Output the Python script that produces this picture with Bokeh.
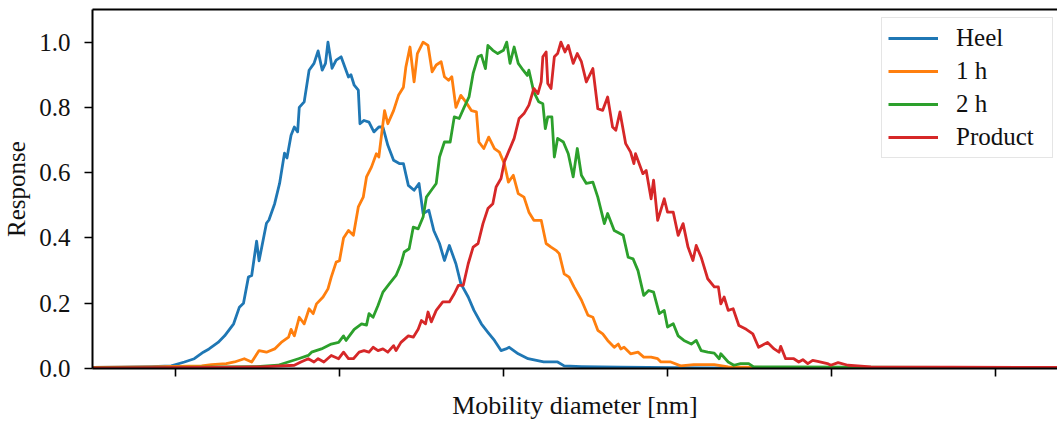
from bokeh.plotting import figure
from bokeh.models import FixedTicker, LinearAxis, PrintfTickFormatter
from bokeh.embed import file_html
from bokeh.resources import INLINE

FONT = "Liberation Serif"

# Mobility diameter [nm] vs normalised response
heel = [(9.9, 0.003), (13.4, 0.004), (17.1, 0.006), (19.5, 0.008), (21.1, 0.02), (22.3, 0.03),
        (23.4, 0.05), (24.1, 0.06), (25.2, 0.08), (26.0, 0.10), (27.1, 0.137), (27.8, 0.188),
        (28.3, 0.20), (28.9, 0.28), (29.3, 0.285), (29.9, 0.39), (30.2, 0.33), (31.1, 0.445),
        (31.4, 0.455), (32.1, 0.505), (32.7, 0.567), (33.3, 0.66), (33.6, 0.645), (34.1, 0.715),
        (34.5, 0.74), (34.9, 0.725), (35.1, 0.80), (35.7, 0.817), (36.3, 0.914), (36.9, 0.935),
        (37.4, 0.973), (37.9, 0.914), (38.3, 0.935), (38.6, 1.0), (39.1, 0.92), (39.6, 0.945),
        (40.2, 0.955), (41.1, 0.893), (41.4, 0.90), (41.8, 0.868), (42.3, 0.853), (42.5, 0.75),
        (43.0, 0.76), (43.6, 0.755), (44.2, 0.725), (44.8, 0.74), (45.3, 0.74), (45.9, 0.684),
        (46.6, 0.638), (47.3, 0.628), (47.8, 0.628), (48.4, 0.561), (49.1, 0.546), (49.7, 0.567),
        (50.2, 0.475), (50.9, 0.485), (51.5, 0.423), (52.2, 0.383), (52.8, 0.331), (53.4, 0.377),
        (54.2, 0.321), (54.8, 0.26), (55.7, 0.219), (56.4, 0.178), (57.3, 0.137), (58.1, 0.111),
        (58.9, 0.086), (59.7, 0.055), (60.3, 0.06), (60.7, 0.065), (61.8, 0.045), (63.0, 0.03),
        (64.9, 0.02), (66.6, 0.02), (67.4, 0.008), (69.5, 0.006), (74.3, 0.004), (84.1, 0.002),
        (96.2, 0.001), (108.4, 0.001), (127.5, 0.001)]

one_h = [(9.9, 0.003), (17.1, 0.005), (23.2, 0.008), (24.4, 0.012), (26.2, 0.015), (27.2, 0.02),
         (28.4, 0.03), (29.3, 0.02), (30.2, 0.055), (31.1, 0.05), (32.1, 0.06), (32.9, 0.08),
         (33.8, 0.096), (34.1, 0.12), (34.5, 0.10), (35.1, 0.157), (35.7, 0.137), (36.3, 0.183),
         (36.8, 0.168), (37.2, 0.198), (38.0, 0.219), (38.6, 0.244), (39.0, 0.28), (39.6, 0.326),
         (40.0, 0.33), (40.5, 0.40), (41.1, 0.423), (41.7, 0.408), (42.3, 0.495), (42.9, 0.525),
         (43.3, 0.587), (43.9, 0.617), (44.5, 0.658), (44.8, 0.648), (45.5, 0.79), (45.9, 0.75),
         (46.6, 0.79), (47.2, 0.837), (47.8, 0.862), (48.1, 0.924), (48.6, 0.985), (49.1, 0.878),
         (49.5, 0.965), (50.2, 1.0), (50.8, 0.99), (51.3, 0.909), (51.8, 0.93), (52.4, 0.94),
         (52.8, 0.894), (53.3, 0.883), (53.7, 0.894), (54.2, 0.80), (54.8, 0.837), (55.4, 0.817),
         (56.1, 0.79), (56.7, 0.786), (57.0, 0.694), (57.6, 0.674), (58.2, 0.709), (58.9, 0.674),
         (59.5, 0.663), (60.1, 0.628), (60.6, 0.571), (61.2, 0.592), (61.8, 0.536), (62.5, 0.525),
         (63.1, 0.479), (63.7, 0.454), (64.6, 0.454), (65.2, 0.383), (65.8, 0.372), (66.4, 0.362),
         (66.8, 0.352), (67.4, 0.29), (68.0, 0.28), (68.6, 0.25), (69.5, 0.21), (70.3, 0.163),
         (70.9, 0.157), (71.5, 0.117), (72.1, 0.106), (72.7, 0.086), (73.5, 0.065), (74.0, 0.075),
         (74.3, 0.06), (74.7, 0.065), (75.5, 0.045), (76.4, 0.05), (77.1, 0.035), (78.0, 0.035),
         (78.8, 0.03), (79.2, 0.02), (80.4, 0.02), (81.6, 0.008), (83.2, 0.012), (85.7, 0.012),
         (87.4, 0.005), (93.8, 0.003), (108.4, 0.002), (127.5, 0.001)]

two_h = [(9.9, 0.002), (23.2, 0.004), (29.9, 0.006), (32.5, 0.01), (35.0, 0.03), (36.2, 0.04),
         (36.6, 0.05), (37.8, 0.06), (39.0, 0.075), (39.9, 0.08), (40.5, 0.10), (40.8, 0.086),
         (41.8, 0.12), (42.7, 0.137), (43.3, 0.133), (43.6, 0.168), (44.1, 0.157), (44.7, 0.193),
         (45.3, 0.234), (46.1, 0.26), (46.9, 0.285), (47.5, 0.321), (47.9, 0.357), (48.5, 0.367),
         (49.0, 0.433), (49.6, 0.428), (50.2, 0.464), (50.6, 0.525), (51.2, 0.546), (51.8, 0.567),
         (52.2, 0.648), (52.8, 0.694), (53.5, 0.694), (54.0, 0.771), (54.6, 0.766), (55.2, 0.80),
         (55.8, 0.832), (56.3, 0.904), (56.9, 0.955), (57.3, 0.96), (57.8, 0.919), (58.1, 0.99),
         (58.7, 0.975), (59.3, 0.965), (60.0, 0.975), (60.4, 1.0), (60.8, 0.935), (61.3, 0.985),
         (61.8, 0.935), (62.4, 0.914), (62.9, 0.898), (63.1, 0.914), (63.7, 0.847), (64.3, 0.817),
         (64.8, 0.811), (65.1, 0.735), (65.4, 0.771), (65.9, 0.771), (66.2, 0.648), (66.6, 0.705),
         (67.3, 0.694), (67.9, 0.658), (68.5, 0.587), (69.0, 0.674), (69.5, 0.592), (70.1, 0.567),
         (70.9, 0.571), (71.5, 0.525), (72.3, 0.444), (72.7, 0.475), (73.5, 0.423), (74.6, 0.408),
         (75.2, 0.341), (75.8, 0.336), (76.4, 0.30), (77.1, 0.224), (77.7, 0.239), (78.3, 0.234),
         (79.0, 0.168), (79.6, 0.178), (80.0, 0.127), (80.7, 0.137), (81.3, 0.10), (82.0, 0.086),
         (82.9, 0.075), (83.5, 0.086), (84.1, 0.055), (84.9, 0.05), (85.7, 0.047), (86.3, 0.03),
         (86.5, 0.045), (87.4, 0.02), (88.1, 0.01), (88.9, 0.015), (89.9, 0.015), (90.5, 0.005),
         (95.0, 0.005), (102.3, 0.004), (114.5, 0.003), (127.5, 0.002)]

product = [(9.9, 0.002), (23.2, 0.003), (30.5, 0.005), (34.5, 0.01), (35.3, 0.02), (36.2, 0.03),
           (36.9, 0.02), (37.4, 0.03), (38.1, 0.02), (39.0, 0.04), (39.9, 0.03), (40.5, 0.05),
           (41.1, 0.03), (41.7, 0.03), (42.4, 0.05), (43.0, 0.055), (43.6, 0.05), (44.1, 0.065),
           (44.7, 0.055), (45.3, 0.06), (45.9, 0.05), (46.6, 0.07), (46.9, 0.055), (47.5, 0.08),
           (48.4, 0.10), (49.0, 0.096), (49.6, 0.12), (50.0, 0.147), (50.5, 0.137), (50.8, 0.173),
           (51.2, 0.143), (51.8, 0.178), (52.6, 0.204), (53.4, 0.204), (54.0, 0.229), (54.5, 0.255),
           (55.1, 0.255), (55.7, 0.321), (56.3, 0.372), (56.9, 0.383), (57.5, 0.444), (58.1, 0.49),
           (58.7, 0.505), (59.1, 0.556), (59.7, 0.582), (60.1, 0.633), (60.7, 0.669), (61.3, 0.705),
           (61.9, 0.766), (62.5, 0.781), (63.1, 0.807), (63.7, 0.858), (64.2, 0.842), (64.6, 0.878),
           (64.8, 0.955), (65.2, 0.97), (65.4, 0.873), (65.8, 0.858), (66.2, 0.955), (66.6, 0.965),
           (67.0, 1.0), (67.5, 0.97), (67.9, 0.99), (68.5, 0.935), (69.0, 0.965), (69.5, 0.94),
           (70.1, 0.878), (70.9, 0.919), (71.5, 0.796), (72.1, 0.791), (72.7, 0.832), (73.3, 0.74),
           (73.7, 0.73), (74.2, 0.786), (74.9, 0.689), (75.5, 0.663), (75.9, 0.628), (76.1, 0.658),
           (77.0, 0.597), (77.4, 0.607), (78.0, 0.52), (78.3, 0.577), (78.8, 0.454), (79.6, 0.52),
           (80.0, 0.479), (80.7, 0.479), (81.3, 0.408), (81.9, 0.444), (82.5, 0.372), (83.1, 0.331),
           (83.5, 0.377), (84.1, 0.341), (84.9, 0.275), (85.7, 0.25), (86.2, 0.25), (86.5, 0.198),
           (86.9, 0.219), (87.4, 0.178), (88.0, 0.183), (88.7, 0.132), (89.6, 0.12), (90.4, 0.106),
           (91.1, 0.065), (92.2, 0.08), (93.0, 0.06), (93.6, 0.05), (93.8, 0.068), (94.4, 0.03),
           (95.4, 0.03), (96.0, 0.02), (96.5, 0.027), (97.1, 0.015), (97.7, 0.025), (98.3, 0.022),
           (99.5, 0.015), (99.9, 0.01), (100.8, 0.018), (102.0, 0.01), (103.2, 0.008), (104.8, 0.005),
           (114.5, 0.004), (127.5, 0.003)]

series_names = ["Heel", "1 h", "2 h", "Product"]
series_colors = ["#1f77b4", "#ff7f0e", "#2ca02c", "#d62728"]
x_ticks = [20, 40, 60, 80, 100, 120]
y_ticks = [0.0, 0.2, 0.4, 0.6, 0.8, 1.0]

p = figure(width=1057, height=423, x_range=(9.89, 127.55), y_range=(0, 1.1),
           output_backend="svg", toolbar_location=None,
           min_border_left=0, min_border_right=0, min_border_top=9, min_border_bottom=55,
           background_fill_color="white", border_fill_color="white")
p.outline_line_color = None
p.xgrid.visible = False
p.ygrid.visible = False

for data, name, col in zip([heel, one_h, two_h, product], series_names, series_colors):
    xs = [d for d, _ in data]
    ys = [r for _, r in data]
    p.line(xs, ys, line_color=col, line_width=2.8, legend_label=name, line_join="round")

# x axis (tick marks only, no tick labels)
xa = p.xaxis[0]
xa.ticker = FixedTicker(ticks=x_ticks)
xa.major_label_overrides = {t: "" for t in x_ticks}
xa.major_label_text_font_size = "25px"
xa.major_label_standoff = 0
xa.minor_tick_line_color = None
xa.major_tick_out = 8
xa.major_tick_in = 0
xa.major_tick_line_width = 1.6
xa.axis_line_width = 2
xa.axis_line_color = "black"
xa.axis_label = "Mobility diameter [nm]"
xa.axis_label_text_font = FONT
xa.axis_label_text_font_size = "26px"
xa.axis_label_text_font_style = "normal"
xa.axis_label_text_color = "#111111"
xa.axis_label_standoff = 14

ya = p.yaxis[0]
ya.ticker = FixedTicker(ticks=y_ticks)
ya.formatter = PrintfTickFormatter(format="%.1f")
ya.minor_tick_line_color = None
ya.major_tick_out = 8
ya.major_tick_in = 0
ya.major_tick_line_width = 1.6
ya.axis_line_width = 2
ya.axis_line_color = "black"
ya.major_label_text_font = FONT
ya.major_label_text_font_style = "normal"
ya.major_label_text_font_size = "25px"
ya.major_label_text_color = "#111111"
ya.major_label_standoff = 14
ya.axis_label = "Response"
ya.axis_label_text_font = FONT
ya.axis_label_text_font_size = "25px"
ya.axis_label_text_font_style = "normal"
ya.axis_label_text_color = "#111111"
ya.axis_label_standoff = 6

# top spine
top = LinearAxis(ticker=FixedTicker(ticks=[]), major_tick_out=0, major_tick_in=0,
                 minor_tick_out=0, minor_tick_in=0, major_label_text_font_size="0px",
                 major_label_standoff=0, axis_line_width=2, axis_line_color="black")
p.add_layout(top, "above")

lg = p.legend[0]
lg.location = (789, 210)
lg.label_text_font = FONT
lg.label_text_font_style = "normal"
lg.label_text_font_size = "25px"
lg.label_text_color = "#111111"
lg.glyph_width = 50
lg.glyph_height = 28
lg.label_height = 28
lg.label_width = 90
lg.label_standoff = 18
lg.padding = 6
lg.spacing = 5
lg.margin = 0
lg.border_line_color = "#cccccc"
lg.border_line_width = 1.5
lg.background_fill_color = "white"
lg.background_fill_alpha = 0.8

open("out.html", "w").write(file_html(p, INLINE))
